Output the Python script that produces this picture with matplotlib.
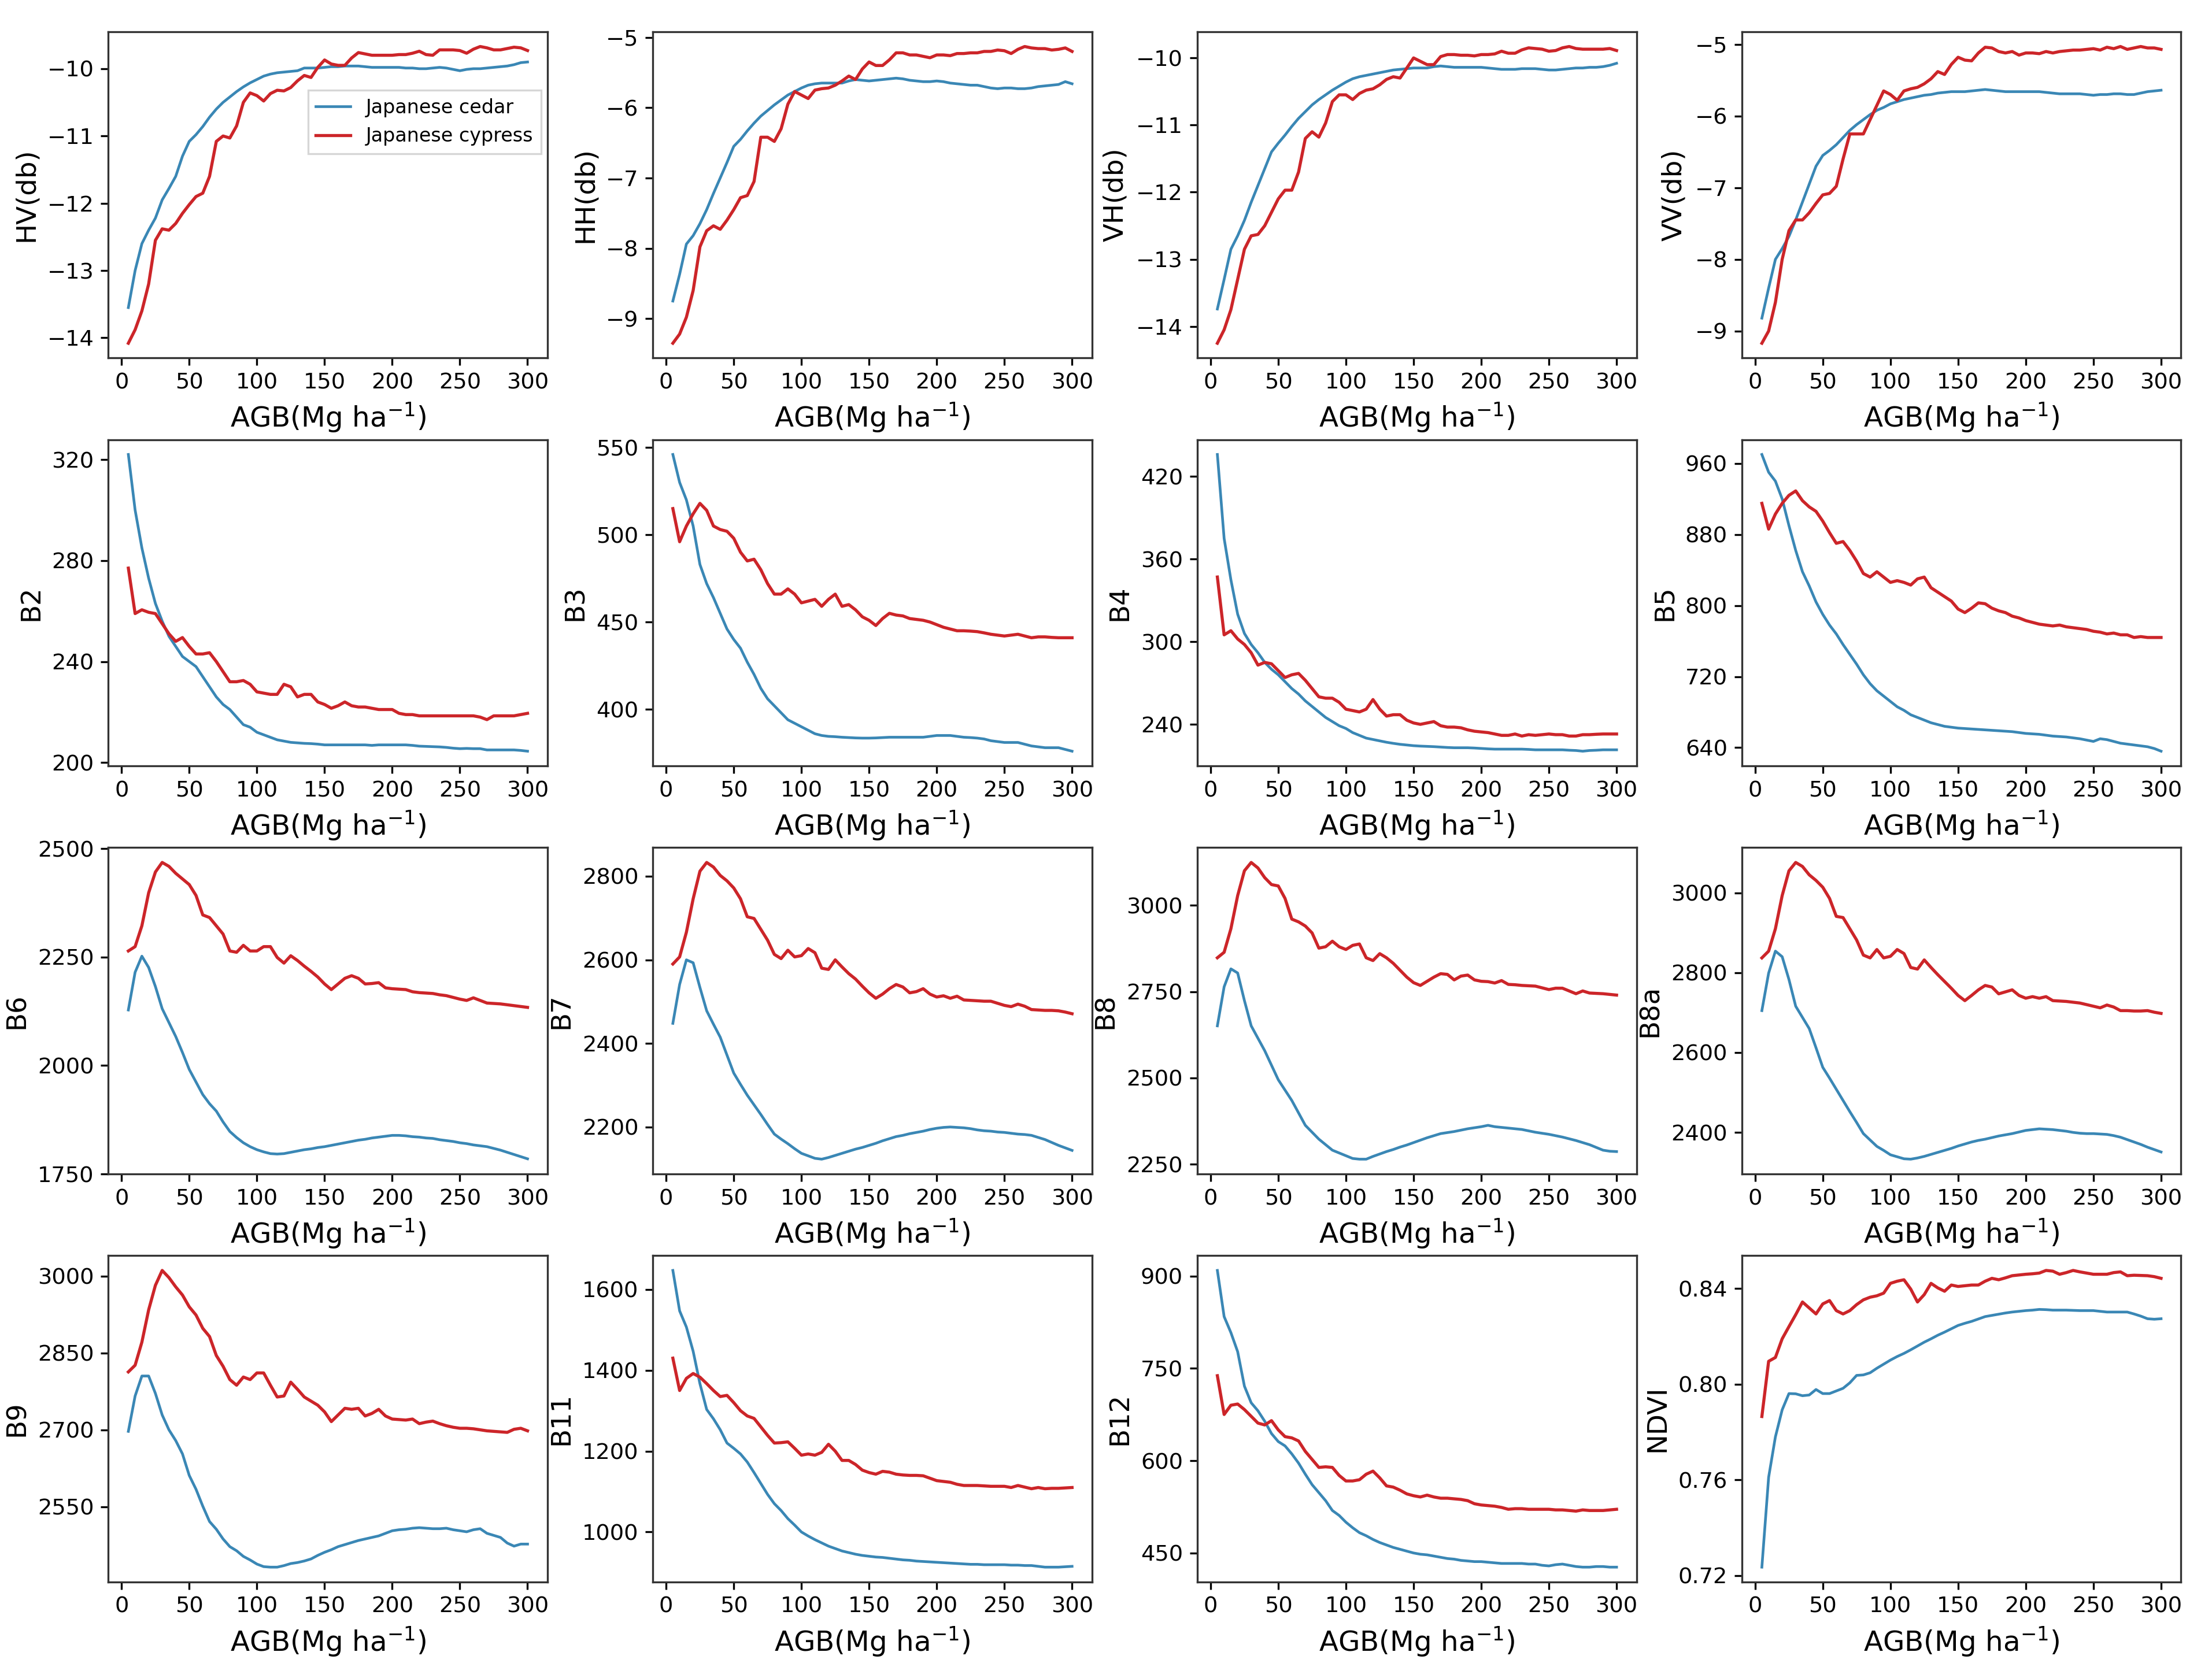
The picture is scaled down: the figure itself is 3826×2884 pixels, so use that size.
import numpy as np
import matplotlib
matplotlib.use("Agg")
import matplotlib.pyplot as plt

# AGB bins (Mg/ha)
agb = list(range(5, 305, 5))

hv_cedar = [-13.55, -13.00, -12.60, -12.40, -12.22, -11.95, -11.78, -11.60, -11.30, -11.08,
            -10.98, -10.86, -10.72, -10.60, -10.50, -10.42, -10.34, -10.27, -10.21, -10.16,
            -10.11, -10.08, -10.06, -10.05, -10.04, -10.03, -9.99, -9.99, -9.99, -9.98,
            -9.97, -9.97, -9.96, -9.96, -9.96, -9.97, -9.98, -9.98, -9.98, -9.98,
            -9.98, -9.99, -9.99, -10.00, -10.00, -9.99, -9.98, -9.99, -10.01, -10.03,
            -10.01, -10.00, -10.00, -9.99, -9.98, -9.97, -9.96, -9.94, -9.91, -9.90]
hv_cypress = [-14.08, -13.88, -13.60, -13.20, -12.55, -12.38, -12.40, -12.30, -12.15, -12.02,
              -11.90, -11.85, -11.60, -11.08, -11.00, -11.03, -10.85, -10.50, -10.36, -10.40,
              -10.48, -10.37, -10.32, -10.33, -10.28, -10.18, -10.10, -10.13, -9.98, -9.87,
              -9.93, -9.95, -9.95, -9.84, -9.76, -9.78, -9.80, -9.80, -9.80, -9.80,
              -9.79, -9.79, -9.77, -9.74, -9.79, -9.80, -9.72, -9.72, -9.72, -9.73,
              -9.77, -9.71, -9.67, -9.69, -9.72, -9.72, -9.70, -9.68, -9.69, -9.73]

hh_cedar = [-8.75, -8.37, -7.94, -7.82, -7.65, -7.45, -7.22, -7.00, -6.78, -6.55,
            -6.45, -6.33, -6.22, -6.12, -6.04, -5.96, -5.89, -5.82, -5.77, -5.72,
            -5.68, -5.66, -5.65, -5.65, -5.65, -5.65, -5.62, -5.60, -5.61, -5.62,
            -5.61, -5.60, -5.59, -5.58, -5.59, -5.61, -5.62, -5.63, -5.63, -5.62,
            -5.63, -5.65, -5.66, -5.67, -5.68, -5.68, -5.70, -5.72, -5.73, -5.72,
            -5.72, -5.73, -5.73, -5.72, -5.70, -5.69, -5.68, -5.67, -5.63, -5.66]
hh_cypress = [-9.35, -9.22, -8.98, -8.60, -7.98, -7.75, -7.68, -7.73, -7.60, -7.45,
              -7.28, -7.25, -7.05, -6.42, -6.42, -6.48, -6.30, -5.95, -5.77, -5.82,
              -5.87, -5.75, -5.73, -5.72, -5.68, -5.62, -5.55, -5.60, -5.45, -5.35,
              -5.40, -5.40, -5.32, -5.22, -5.22, -5.25, -5.25, -5.27, -5.29, -5.25,
              -5.25, -5.26, -5.23, -5.23, -5.22, -5.22, -5.20, -5.20, -5.18, -5.19,
              -5.23, -5.17, -5.13, -5.15, -5.16, -5.16, -5.18, -5.17, -5.15, -5.20]

vh_cedar = [-13.74, -13.30, -12.85, -12.65, -12.42, -12.15, -11.90, -11.65, -11.40, -11.27,
            -11.15, -11.02, -10.90, -10.80, -10.70, -10.62, -10.55, -10.48, -10.42, -10.36,
            -10.31, -10.28, -10.26, -10.24, -10.22, -10.20, -10.18, -10.17, -10.16, -10.15,
            -10.15, -10.15, -10.13, -10.12, -10.13, -10.14, -10.14, -10.14, -10.14, -10.14,
            -10.15, -10.16, -10.17, -10.17, -10.17, -10.16, -10.16, -10.16, -10.17, -10.18,
            -10.18, -10.17, -10.16, -10.15, -10.15, -10.14, -10.14, -10.13, -10.11, -10.08]
vh_cypress = [-14.25, -14.05, -13.75, -13.30, -12.85, -12.65, -12.63, -12.50, -12.30, -12.10,
              -11.97, -11.97, -11.70, -11.20, -11.10, -11.18, -10.97, -10.65, -10.55, -10.55,
              -10.62, -10.53, -10.48, -10.46, -10.40, -10.32, -10.28, -10.30, -10.15, -10.00,
              -10.05, -10.10, -10.10, -9.98, -9.95, -9.95, -9.96, -9.96, -9.97, -9.95,
              -9.95, -9.94, -9.90, -9.93, -9.93, -9.88, -9.85, -9.86, -9.87, -9.90,
              -9.89, -9.85, -9.83, -9.86, -9.87, -9.87, -9.87, -9.87, -9.86, -9.89]

vv_cedar = [-8.82, -8.40, -8.00, -7.85, -7.68, -7.45, -7.20, -6.95, -6.70, -6.55,
            -6.48, -6.40, -6.30, -6.20, -6.12, -6.05, -5.98, -5.92, -5.88, -5.83,
            -5.80, -5.77, -5.75, -5.73, -5.71, -5.70, -5.68, -5.67, -5.66, -5.66,
            -5.66, -5.65, -5.64, -5.63, -5.64, -5.65, -5.66, -5.66, -5.66, -5.66,
            -5.66, -5.66, -5.67, -5.68, -5.69, -5.69, -5.69, -5.69, -5.70, -5.71,
            -5.70, -5.70, -5.69, -5.69, -5.70, -5.70, -5.68, -5.66, -5.65, -5.64]
vv_cypress = [-9.17, -9.00, -8.60, -8.00, -7.60, -7.45, -7.45, -7.35, -7.22, -7.10,
              -7.08, -6.98, -6.60, -6.25, -6.25, -6.25, -6.05, -5.85, -5.65, -5.70,
              -5.78, -5.65, -5.62, -5.60, -5.55, -5.48, -5.38, -5.42, -5.28, -5.18,
              -5.22, -5.23, -5.12, -5.04, -5.05, -5.10, -5.12, -5.10, -5.15, -5.12,
              -5.12, -5.13, -5.10, -5.12, -5.10, -5.09, -5.08, -5.08, -5.07, -5.06,
              -5.08, -5.04, -5.06, -5.03, -5.07, -5.05, -5.03, -5.05, -5.05, -5.07]

b2_cedar = [322, 300, 285, 273, 263, 256, 250, 246, 242, 240,
            238, 234, 230, 226, 223, 221, 218, 215, 214, 212,
            211, 210, 209, 208.5, 208, 207.8, 207.6, 207.5, 207.3, 207,
            207, 207, 207, 207, 207, 207, 206.8, 207, 207, 207,
            207, 207, 206.8, 206.5, 206.4, 206.3, 206.2, 206, 205.7, 205.5,
            205.6, 205.5, 205.5, 205, 205, 205, 205, 205, 204.8, 204.5]
b2_cypress = [277, 259, 260.5, 259.5, 259, 255, 251, 248, 249.5, 246,
              243, 243, 243.5, 240, 236, 232, 232, 232.5, 231, 228,
              227.5, 227, 227, 231, 230, 226, 227, 227, 224, 223,
              221.5, 222.5, 224, 222.5, 222, 222, 221.5, 221, 221, 221,
              219.5, 219, 219, 218.5, 218.5, 218.5, 218.5, 218.5, 218.5, 218.5,
              218.5, 218.5, 218, 217, 218.5, 218.5, 218.5, 218.5, 219, 219.5]

b3_cedar = [546, 530, 520, 505, 483, 472, 464, 455, 446, 440,
            435, 427, 420, 412, 406, 402, 398, 394, 392, 390,
            388, 386, 385, 384.5, 384.3, 384, 383.8, 383.6, 383.5, 383.5,
            383.6, 383.8, 384, 384, 384, 384, 384, 384, 384.5, 385,
            385, 385, 384.5, 384, 383.8, 383.5, 383, 382, 381.5, 381,
            381, 381, 380, 379, 378.5, 378, 378, 378, 377, 376]
b3_cypress = [515, 496, 505, 512, 518, 514, 505, 503, 502, 498,
              490, 485, 486, 480, 472, 466, 466, 469, 466, 461,
              462, 463, 459, 463, 466, 459, 460, 457, 453, 451,
              448, 452, 455, 454, 453.5, 452, 451.5, 451, 450, 448.5,
              447, 446, 445, 445, 444.8, 444.5, 443.8, 443, 442.5, 442,
              442.5, 443, 442, 441, 441.5, 441.5, 441.2, 441, 441, 441]

b4_cedar = [436, 375, 345, 320, 306, 298, 292, 285, 280, 276,
            271, 266, 262, 257, 253, 249, 245, 242, 239, 237,
            234, 232, 230, 229, 228, 227, 226.2, 225.5, 225, 224.5,
            224.2, 224, 223.8, 223.5, 223.2, 223, 223, 223, 222.8, 222.5,
            222.2, 222, 222, 222, 222, 222, 221.8, 221.5, 221.5, 221.5,
            221.5, 221.5, 221.2, 221, 220.5, 221, 221.2, 221.5, 221.5, 221.5]
b4_cypress = [347, 305, 308, 302, 298, 292, 283, 285, 284, 279,
              274, 276, 277, 272, 266, 260, 259, 259, 256, 251,
              250, 249, 251, 258, 251, 246, 247, 247, 243, 241,
              240, 241, 242, 239, 238, 238, 237.5, 236, 235, 234.5,
              234, 233, 232, 232, 233, 231.5, 232.5, 232, 232.5, 233,
              232.5, 232.5, 231.5, 231.5, 232.5, 232.5, 232.8, 233, 233, 233]

b5_cedar = [970, 950, 940, 920, 890, 862, 838, 822, 804, 790,
            778, 768, 756, 745, 734, 722, 712, 704, 698, 692,
            686, 682, 677, 674, 671, 668, 666, 664, 663, 662,
            661.5, 661, 660.5, 660, 659.5, 659, 658.5, 658, 657, 656,
            655.5, 655, 654, 653, 652.5, 652, 651, 650, 648.5, 647,
            650, 649, 647, 645, 644, 643, 642, 641, 639, 636]
b5_cypress = [915, 886, 903, 915, 924, 929, 918, 911, 906, 895,
              882, 870, 872, 862, 850, 836, 832, 838, 832, 826,
              828, 826, 823, 830, 832, 820, 815, 810, 805, 796,
              792, 797, 803, 802, 797, 794, 792, 788, 786, 783,
              781, 779, 778, 777, 778, 776, 775, 774, 773, 771,
              770, 768, 769, 767, 767, 764, 765, 764, 764, 764]

b6_cedar = [2128, 2215, 2252, 2226, 2182, 2131, 2099, 2067, 2030, 1991,
            1962, 1933, 1912, 1895, 1870, 1848, 1834, 1822, 1813, 1806,
            1801, 1797, 1796, 1797, 1800, 1803, 1806, 1808, 1811, 1813,
            1816, 1819, 1822, 1825, 1828, 1830, 1833, 1835, 1837, 1839,
            1839, 1838, 1836, 1835, 1833, 1832, 1829, 1827, 1825, 1822,
            1820, 1817, 1815, 1813, 1809, 1805, 1800, 1795, 1790, 1785]
b6_cypress = [2264, 2274, 2322, 2398, 2446, 2468, 2459, 2443, 2430, 2417,
              2392, 2347, 2341, 2322, 2303, 2264, 2261, 2277, 2264, 2264,
              2274, 2274, 2249, 2236, 2253, 2242, 2229, 2217, 2204, 2188,
              2175, 2188, 2201, 2207, 2201, 2188, 2189, 2191, 2179, 2177,
              2176, 2175, 2170, 2168, 2167, 2166, 2163, 2161, 2157, 2153,
              2150, 2156, 2150, 2144, 2143, 2142, 2140, 2138, 2136, 2134]

b7_cedar = [2448, 2541, 2600, 2593, 2534, 2478, 2446, 2415, 2372, 2329,
            2302, 2276, 2253, 2230, 2206, 2183, 2171, 2160, 2148, 2137,
            2131, 2125, 2123, 2127, 2132, 2137, 2142, 2147, 2151, 2156,
            2161, 2167, 2172, 2177, 2180, 2184, 2187, 2190, 2194, 2197,
            2199, 2200, 2199, 2198, 2196, 2193, 2191, 2190, 2188, 2187,
            2185, 2183, 2182, 2180, 2175, 2170, 2163, 2156, 2150, 2144]
b7_cypress = [2590, 2607, 2666, 2746, 2812, 2833, 2822, 2802, 2789, 2772,
              2746, 2703, 2699, 2673, 2647, 2613, 2603, 2623, 2607, 2610,
              2627, 2617, 2580, 2577, 2600, 2583, 2567, 2554, 2537, 2521,
              2508, 2518, 2531, 2541, 2535, 2521, 2524, 2531, 2518, 2511,
              2514, 2508, 2513, 2504, 2503, 2502, 2501, 2501, 2496, 2491,
              2488, 2494, 2489, 2481, 2480, 2479, 2479, 2478, 2475, 2471]

b8_cedar = [2651, 2764, 2816, 2804, 2724, 2651, 2615, 2579, 2537, 2495,
            2465, 2435, 2399, 2363, 2343, 2323, 2307, 2291, 2283, 2275,
            2267, 2265, 2265, 2273, 2280, 2287, 2293, 2300, 2306, 2313,
            2320, 2327, 2333, 2339, 2342, 2345, 2349, 2353, 2356, 2359,
            2363, 2359, 2357, 2355, 2353, 2351, 2347, 2343, 2340, 2337,
            2333, 2329, 2324, 2319, 2313, 2307, 2299, 2291, 2288, 2287]
b8_cypress = [2848, 2864, 2932, 3028, 3100, 3124, 3108, 3080, 3060, 3056,
              3020, 2960, 2952, 2940, 2920, 2876, 2880, 2896, 2880, 2872,
              2884, 2888, 2848, 2840, 2860, 2848, 2832, 2812, 2792, 2776,
              2768, 2780, 2792, 2802, 2800, 2784, 2795, 2798, 2784, 2780,
              2779, 2775, 2782, 2771, 2770, 2768, 2767, 2766, 2761, 2756,
              2760, 2760, 2752, 2744, 2752, 2746, 2745, 2744, 2742, 2740]

b8a_cedar = [2705, 2799, 2854, 2840, 2783, 2716, 2688, 2660, 2612, 2563,
             2536, 2508, 2480, 2452, 2425, 2397, 2381, 2365, 2355, 2344,
             2339, 2334, 2333, 2336, 2340, 2345, 2350, 2355, 2360, 2366,
             2371, 2376, 2380, 2383, 2387, 2391, 2394, 2397, 2401, 2405,
             2407, 2409, 2408, 2407, 2405, 2403, 2400, 2398, 2397, 2397,
             2396, 2395, 2392, 2388, 2382, 2376, 2370, 2363, 2357, 2351]
b8a_cypress = [2837, 2854, 2910, 2993, 3055, 3076, 3066, 3045, 3031, 3014,
               2986, 2941, 2938, 2910, 2882, 2844, 2837, 2858, 2837, 2841,
               2858, 2848, 2813, 2809, 2832, 2813, 2795, 2778, 2761, 2743,
               2730, 2743, 2757, 2768, 2764, 2747, 2752, 2757, 2743, 2736,
               2740, 2736, 2740, 2730, 2729, 2728, 2726, 2724, 2720, 2716,
               2712, 2719, 2714, 2705, 2705, 2704, 2704, 2705, 2701, 2698]

b9_cedar = [2697, 2766, 2805, 2805, 2771, 2729, 2700, 2679, 2653, 2611,
            2584, 2551, 2521, 2506, 2487, 2472, 2464, 2453, 2446, 2438,
            2433, 2432, 2432, 2435, 2439, 2441, 2444, 2448, 2455, 2461,
            2466, 2472, 2476, 2480, 2484, 2487, 2490, 2493, 2498, 2503,
            2505, 2506, 2508, 2509, 2508, 2507, 2507, 2508, 2505, 2503,
            2501, 2505, 2507, 2498, 2494, 2490, 2479, 2473, 2477, 2477]
b9_cypress = [2813, 2826, 2871, 2934, 2982, 3011, 2997, 2979, 2963, 2940,
              2924, 2898, 2882, 2845, 2824, 2798, 2787, 2803, 2798, 2811,
              2811, 2787, 2764, 2766, 2793, 2779, 2764, 2756, 2748, 2735,
              2716, 2729, 2742, 2740, 2742, 2727, 2732, 2740, 2727, 2721,
              2720, 2719, 2721, 2712, 2715, 2717, 2712, 2708, 2705, 2703,
              2703, 2702, 2700, 2698, 2697, 2696, 2695, 2701, 2703, 2698]

b11_cedar = [1647, 1547, 1507, 1447, 1367, 1303, 1280, 1253, 1220, 1207,
             1193, 1173, 1147, 1120, 1093, 1070, 1053, 1033, 1017, 1000,
             990, 981, 973, 965, 959, 953, 949, 945, 942, 940,
             938, 937, 935, 933, 931, 930, 928, 927, 926, 925,
             924, 923, 922, 921, 920, 920, 919, 919, 919, 919,
             918, 918, 917, 917, 915, 913, 913, 913, 914, 915]
b11_cypress = [1430, 1350, 1380, 1392, 1383, 1367, 1350, 1335, 1338, 1320,
               1300, 1287, 1281, 1260, 1239, 1220, 1221, 1223, 1207, 1190,
               1193, 1190, 1197, 1217, 1200, 1177, 1177, 1167, 1153, 1147,
               1143, 1150, 1148, 1143, 1141, 1140, 1140, 1139, 1133, 1127,
               1125, 1123, 1118, 1115, 1115, 1115, 1114, 1113, 1113, 1113,
               1110, 1115, 1111, 1107, 1110, 1107, 1108, 1108, 1109, 1110]

b12_cedar = [909, 834, 808, 777, 721, 694, 681, 664, 644, 631,
             624, 611, 596, 578, 561, 548, 535, 519, 511, 500,
             491, 483, 478, 472, 467, 463, 459, 456, 453, 450,
             448, 447, 445, 443, 441, 440, 438, 437, 436, 436,
             435, 434, 433, 433, 433, 433, 432, 432, 430, 429,
             431, 432, 430, 428, 427, 427, 428, 428, 427, 427]
b12_cypress = [738, 675, 690, 692, 683, 672, 661, 658, 665, 650,
               639, 637, 632, 615, 602, 589, 590, 589, 576, 567,
               567, 569, 578, 583, 572, 559, 557, 552, 546, 543,
               541, 544, 541, 539, 539, 538, 537, 535, 530, 528,
               527, 526, 524, 521, 522, 522, 521, 521, 521, 521,
               520, 520, 519, 518, 520, 519, 519, 519, 520, 521]

ndvi_cedar = [0.7235, 0.7611, 0.7780, 0.7893, 0.7961, 0.7960, 0.7952, 0.7955, 0.7978, 0.7961,
              0.7961, 0.7972, 0.7983, 0.8006, 0.8037, 0.8039, 0.8048, 0.8067, 0.8084, 0.8101,
              0.8116, 0.8129, 0.8144, 0.8160, 0.8176, 0.8190, 0.8205, 0.8218, 0.8232, 0.8246,
              0.8255, 0.8263, 0.8273, 0.8283, 0.8288, 0.8293, 0.8298, 0.8302, 0.8305, 0.8308,
              0.8310, 0.8313, 0.8312, 0.8310, 0.8310, 0.8310, 0.8309, 0.8308, 0.8308, 0.8308,
              0.8305, 0.8302, 0.8302, 0.8302, 0.8302, 0.8294, 0.8285, 0.8274, 0.8272, 0.8274]
ndvi_cypress = [0.7865, 0.8096, 0.8112, 0.8190, 0.8241, 0.8291, 0.8344, 0.8319, 0.8294, 0.8336,
                0.8350, 0.8308, 0.8294, 0.8308, 0.8333, 0.8353, 0.8364, 0.8370, 0.8381, 0.8422,
                0.8431, 0.8437, 0.8398, 0.8344, 0.8375, 0.8422, 0.8403, 0.8389, 0.8415, 0.8409,
                0.8412, 0.8415, 0.8415, 0.8431, 0.8443, 0.8437, 0.8445, 0.8454, 0.8457, 0.8460,
                0.8462, 0.8465, 0.8476, 0.8473, 0.8460, 0.8467, 0.8476, 0.8470, 0.8465, 0.8460,
                0.8460, 0.8460, 0.8467, 0.8470, 0.8454, 0.8456, 0.8455, 0.8454, 0.8450, 0.8443]

labels = ["HV(db)", "HH(db)", "VH(db)", "VV(db)",
          "B2", "B3", "B4", "B5",
          "B6", "B7", "B8", "B8a",
          "B9", "B11", "B12", "NDVI"]

yticks = [[-14, -13, -12, -11, -10], [-9, -8, -7, -6, -5], [-14, -13, -12, -11, -10], [-9, -8, -7, -6, -5],
          [200, 240, 280, 320], [400, 450, 500, 550], [240, 300, 360, 420], [640, 720, 800, 880, 960],
          [1750, 2000, 2250, 2500], [2200, 2400, 2600, 2800], [2250, 2500, 2750, 3000], [2400, 2600, 2800, 3000],
          [2550, 2700, 2850, 3000], [1000, 1200, 1400, 1600], [450, 600, 750, 900], [0.72, 0.76, 0.80, 0.84]]

cedar = [hv_cedar, hh_cedar, vh_cedar, vv_cedar, b2_cedar, b3_cedar, b4_cedar, b5_cedar,
         b6_cedar, b7_cedar, b8_cedar, b8a_cedar, b9_cedar, b11_cedar, b12_cedar, ndvi_cedar]
cypress = [hv_cypress, hh_cypress, vh_cypress, vv_cypress, b2_cypress, b3_cypress, b4_cypress, b5_cypress,
           b6_cypress, b7_cypress, b8_cypress, b8a_cypress, b9_cypress, b11_cypress, b12_cypress, ndvi_cypress]

c_cedar = "#3a87b5"
c_cypress = "#cc2529"

fig, axes = plt.subplots(4, 4, figsize=(3826/240, 2884/240), dpi=240)
plt.subplots_adjust(left=0.049, right=0.986, top=0.981, bottom=0.051, wspace=0.24, hspace=0.25)

for i, ax in enumerate(axes.flat):
    ax.plot(agb, cedar[i], color=c_cedar, lw=1.4, label="Japanese cedar")
    ax.plot(agb, cypress[i], color=c_cypress, lw=1.6, label="Japanese cypress")
    ax.set_xticks([0, 50, 100, 150, 200, 250, 300])
    ax.set_yticks(yticks[i])
    if i == 15:
        ax.set_yticklabels(["%.2f" % v for v in yticks[i]])
    ax.tick_params(labelsize=11.5, length=4, width=1)
    ax.set_xlabel("AGB(Mg ha$^{-1}$)", fontsize=14.5)
    ax.set_ylabel(labels[i], fontsize=14)
    for s in ax.spines.values():
        s.set_color("#333333")
        s.set_linewidth(1.0)
    if i == 0:
        ax.legend(loc="upper right", bbox_to_anchor=(0.985, 0.82), fontsize=10,
                  frameon=True, fancybox=False, borderaxespad=0, handlelength=1.8)

plt.savefig("out.png", dpi=240)
